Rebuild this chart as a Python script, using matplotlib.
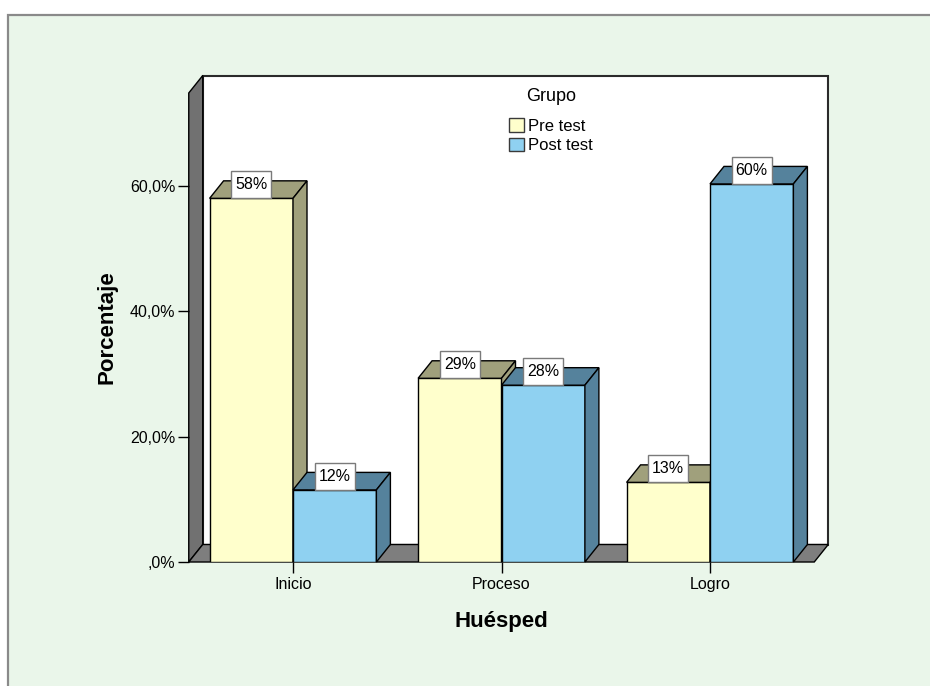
import matplotlib
matplotlib.use("Agg")
import matplotlib.pyplot as plt
from matplotlib.patches import Polygon, Rectangle, Patch
from matplotlib.transforms import ScaledTranslation

plt.rcParams['font.family'] = ['Liberation Sans', 'DejaVu Sans']

categories = ["Inicio", "Proceso", "Logro"]
series_names = ["Pre test", "Post test"]
pre_test = [58.0, 29.3, 12.7]
post_test = [11.5, 28.2, 60.3]
yticks = [0, 20, 40, 60]
ytick_labels = [",0%", "20,0%", "40,0%", "60,0%"]

front_colors = ["#FFFFCC", "#8FD1F1"]
shade_colors = ["#A0A07C", "#55829C"]

W, H = 930, 686
fig = plt.figure(figsize=(W / 100, H / 100), dpi=100)
fig.patch.set_facecolor("white")

# outer panel
fig.add_artist(Rectangle((8 / W, -0.2), 2.0, (H - 15) / H + 0.2, transform=fig.transFigure,
                         facecolor="#EAF6EA", edgecolor="#8A8A8A", lw=1.6, zorder=0))

left_px, right_px = 188.75, 814.25
bottom_px, top_px = 562, 93
ax = fig.add_axes([left_px / W, (H - bottom_px) / H, (right_px - left_px) / W, (bottom_px - top_px) / H])
ax.set_facecolor("none")
xmin, xmax = -0.5, 2.5
ymin, ymax = 0, 74.8
ax.set_xlim(xmin, xmax)
ax.set_ylim(ymin, ymax)

px_x = (xmax - xmin) / (right_px - left_px)
px_y = (ymax - ymin) / (bottom_px - top_px)
DX = 14 * px_x
DY = 17.5 * px_y

for s in ax.spines.values():
    s.set_visible(False)

# back wall
ax.add_patch(Rectangle((xmin + DX, DY), xmax - xmin, ymax - ymin, facecolor="white",
                       edgecolor="#2A2A2A", lw=1.5, zorder=0.5, clip_on=False))
# left wall
ax.add_patch(Polygon([(xmin, 0), (xmin, ymax), (xmin + DX, ymax + DY), (xmin + DX, DY)],
                     closed=True, facecolor="#717171", edgecolor="black", lw=1.0, zorder=1, clip_on=False))
# floor
ax.add_patch(Polygon([(xmin, 0), (xmax, 0), (xmax + DX, DY), (xmin + DX, DY)],
                     closed=True, facecolor="#7E7E7E", edgecolor="black", lw=1.0, zorder=1, clip_on=False))

width = 0.4
data = [pre_test, post_test]
for j, vals in enumerate(data):
    offs = -width / 2 if j == 0 else width / 2
    xs = [i + offs for i in range(len(categories))]
    bars = ax.bar(xs, vals, width=width, color=front_colors[j], edgecolor="black", lw=1.0)
    for i, (b, v) in enumerate(zip(bars, vals)):
        z = 2 + i * 4 + j * 2
        b.set_zorder(z)
        x0 = xs[i] - width / 2
        x1 = xs[i] + width / 2
        ax.add_patch(Polygon([(x0, v), (x0 + DX, v + DY), (x1 + DX, v + DY), (x1, v)], closed=True,
                             facecolor=shade_colors[j], edgecolor="black", lw=1.0, zorder=z, clip_on=False))
        ax.add_patch(Polygon([(x1, 0), (x1, v), (x1 + DX, v + DY), (x1 + DX, DY)], closed=True,
                             facecolor=shade_colors[j], edgecolor="black", lw=1.0, zorder=z, clip_on=False))
        # label box (fixed pixel size, anchored at the bar top)
        box = Rectangle((-20, 0), 40, 27, facecolor="white", edgecolor="#7A7A7A", lw=1.0,
                        transform=ScaledTranslation(xs[i], v, ax.transData), zorder=50, clip_on=False)
        ax.add_artist(box)
        ax.annotate(f"{v:.0f}%", xy=(xs[i], v), xytext=(0, 13.5 * 0.72), textcoords="offset points",
                    ha="center", va="center", fontsize=11.5, zorder=51, annotation_clip=False)

ax.set_xticks(range(len(categories)))
ax.set_xticklabels(categories, fontsize=11.5)
ax.set_yticks(yticks)
ax.set_yticklabels(ytick_labels, fontsize=11.5)
ax.tick_params(axis="y", length=8, width=1, pad=1.5, color="black")
ax.tick_params(axis="x", length=8, width=1, pad=3, color="black")

ax.set_ylabel("Porcentaje", fontsize=16, fontweight="bold")
ax.yaxis.set_label_coords((107 - left_px) / (right_px - left_px), 0.5)
ax.yaxis.label.set_va("center")
ax.set_xlabel("Huésped", fontsize=16, fontweight="bold")
ax.xaxis.set_label_coords(0.5, (bottom_px - 621) / (bottom_px - top_px))
ax.xaxis.label.set_va("center")

handles = [Patch(facecolor=front_colors[k], edgecolor="#3A3A3A", lw=1.0) for k in range(2)]
leg = fig.legend(handles, series_names, title="Grupo", loc="upper left",
                 bbox_to_anchor=(508.5 / W, 1 - 88 / H), frameon=False, fontsize=12,
                 title_fontsize=13, handlelength=0.9, handleheight=0.9, handletextpad=0.3,
                 labelspacing=0.22, borderpad=0, borderaxespad=0)
leg._legend_box.sep = 9.5
leg.set_zorder(60)

fig.savefig("out.png", dpi=100)
